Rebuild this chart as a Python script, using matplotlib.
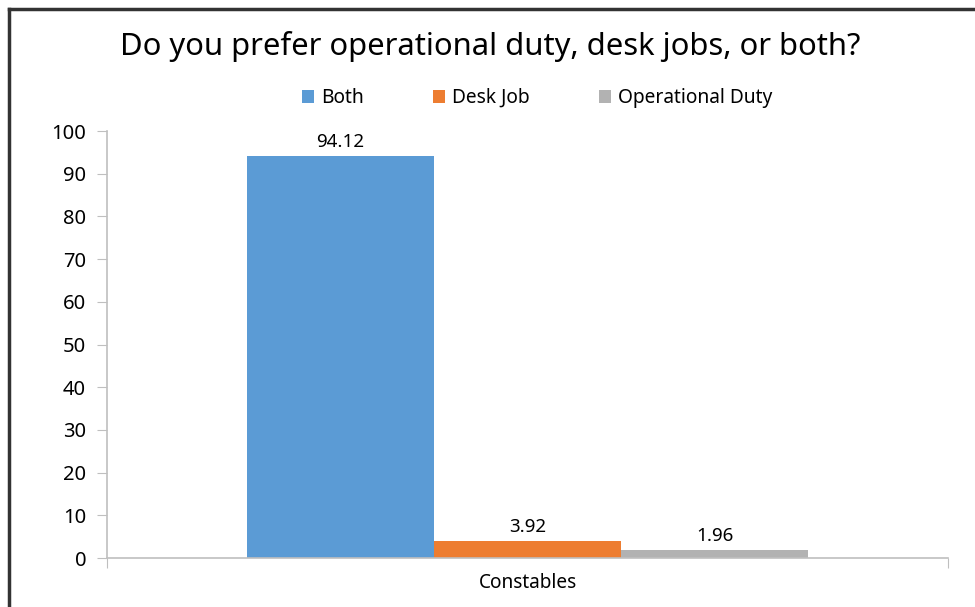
import matplotlib.pyplot as plt
from matplotlib.lines import Line2D

plt.rcParams['font.family'] = ['Noto Sans', 'DejaVu Sans']

categories = ['Constables']
series = ['Both', 'Desk Job', 'Operational Duty']
values = [94.12, 3.92, 1.96]
colors = ['#5B9BD5', '#ED7D31', '#B2B2B2']
yticks = [0, 10, 20, 30, 40, 50, 60, 70, 80, 90, 100]

fig = plt.figure(figsize=(9.75, 6.07), dpi=100)
ax = fig.add_axes([107 / 975, 49 / 607, 841 / 975, 427 / 607])

bar_w = 0.2224
offsets = [-bar_w, 0, bar_w]
for name, val, col, off in zip(series, values, colors, offsets):
    ax.bar(off, val, width=bar_w, color=col, label=name)
    ax.text(off, val + 1.2, f'{val:.2f}', ha='center', va='bottom',
            fontsize=13.5, color='#000000')

ax.set_xlim(-0.5, 0.5)
ax.set_ylim(0, 100)
ax.set_yticks(yticks)
ax.tick_params(axis='y', labelsize=14.5, length=7, color='#BFBFBF', pad=8)
ax.set_xticks([-0.5, 0.5])
ax.set_xticklabels(['', ''])
ax.set_xticks([0], minor=True)
ax.set_xticklabels(categories, minor=True)
ax.tick_params(axis='x', which='major', length=7, color='#BFBFBF')
ax.tick_params(axis='x', which='minor', length=0, labelsize=13.7, pad=11)

for s in ['top', 'right']:
    ax.spines[s].set_visible(False)
for s in ['left', 'bottom']:
    ax.spines[s].set_color('#BFBFBF')
    ax.spines[s].set_linewidth(1.2)

fig.text(0.503, 1 - 47 / 607, 'Do you prefer operational duty, desk jobs, or both?',
         ha='center', va='center', fontsize=22.3)

ax.legend(loc='center', bbox_to_anchor=(537 / 975, 1 - 98 / 607), bbox_transform=fig.transFigure,
          ncol=3, frameon=False, fontsize=13.8, handlelength=0.65, handleheight=0.65,
          handletextpad=0.35, columnspacing=3.6)

# outer chart border (only top and left edges fall inside the image)
fig.add_artist(Line2D([9 / 975, 9 / 975], [0, 1 - 9 / 607], transform=fig.transFigure,
                      color='#333333', linewidth=2.5))
fig.add_artist(Line2D([9 / 975, 1], [1 - 9 / 607, 1 - 9 / 607], transform=fig.transFigure,
                      color='#333333', linewidth=2.5))

fig.savefig('out.png', dpi=100)
